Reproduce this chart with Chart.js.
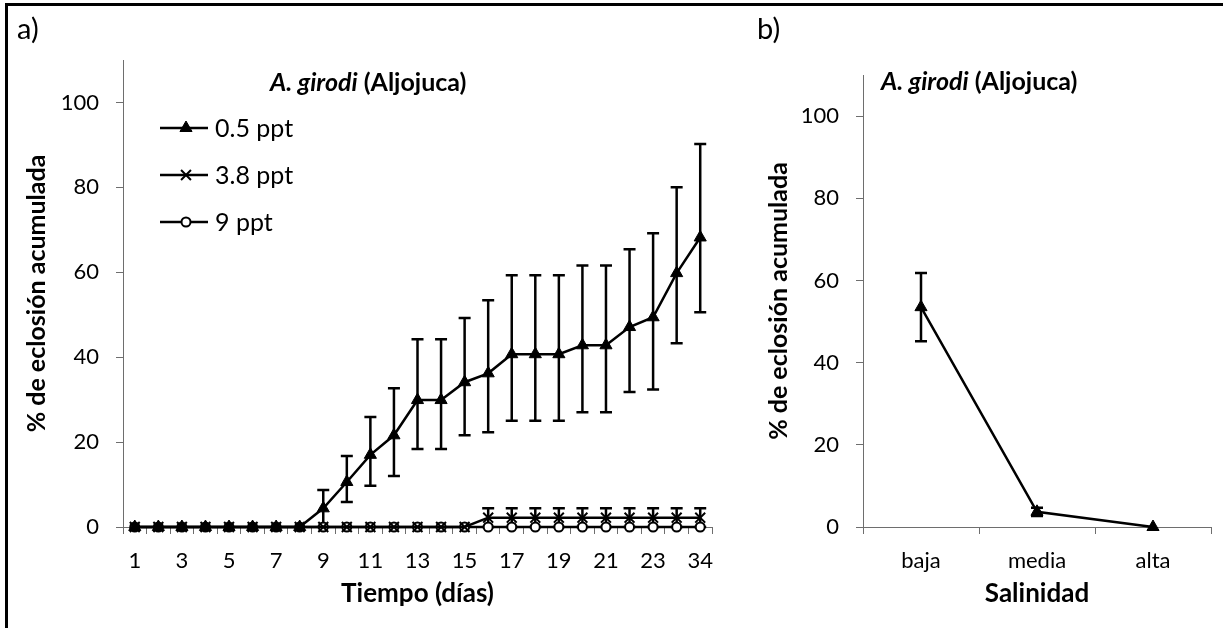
<!DOCTYPE html>
<html>
<head>
<meta charset="utf-8">
<script src="https://cdn.jsdelivr.net/npm/chart.js@4.4.1/dist/chart.umd.min.js"></script>
<style>
  html, body { margin: 0; padding: 0; background: #fff; }
  body { width: 1223px; height: 628px; position: relative; overflow: hidden; font-family: Lato, 'Open Sans', sans-serif; color: #000; }
  .frame { position: absolute; left: 5px; top: 3px; right: -3px; bottom: -3px; border-top: 3px solid #000; border-left: 3px solid #000; }
  .panel { position: absolute; top: 13px; font-size: 29px; line-height: 1; }
  .ttl { position: absolute; font-size: 25px; font-weight: bold; line-height: 1; white-space: nowrap; }
  canvas { position: absolute; top: 0; }
</style>
</head>
<body>
<div class="frame"></div>
<canvas id="chartA" width="740" height="628" style="left:0"></canvas>
<canvas id="chartB" width="483" height="628" style="left:740px"></canvas>
<div class="panel" style="left:17px">a)</div>
<div class="panel" style="left:757px">b)</div>
<div class="ttl" style="left:270px; top:69px"><i>A. girodi</i> (Aljojuca)</div>
<div class="ttl" style="left:881px; top:68px"><i>A. girodi</i> (Aljojuca)</div>

<script>
// --- data, panel a) : cumulative hatching per day
const days = ['1', '2', '3', '4', '5', '6', '7', '8', '9', '10', '11', '12', '13',
  '14', '15', '16', '17', '18', '19', '20', '21', '22', '23', '24', '34'];

const hatch05 = [0, 0, 0, 0, 0, 0, 0, 0, 4.4, 10.6, 17.0, 21.6, 29.9, 29.9, 34.1,
  36.2, 40.7, 40.7, 40.7, 42.8, 42.8, 47.1, 49.4, 59.8, 68.2];
const err05Up = [0, 0, 0, 0, 0, 0, 0, 0, 4.3, 6.1, 8.9, 11.1, 14.3, 14.3, 15.1,
  17.2, 18.6, 18.6, 18.6, 18.8, 18.8, 18.3, 19.8, 20.2, 22.0];
const err05Down = [0, 0, 0, 0, 0, 0, 0, 0, 4.4, 4.7, 7.3, 9.6, 11.5, 11.5, 12.5,
  13.9, 15.7, 15.7, 15.7, 15.8, 15.8, 15.3, 17.0, 16.5, 17.6];

const hatch38 = [0, 0, 0, 0, 0, 0, 0, 0, 0, 0, 0, 0, 0, 0, 0,
  2.2, 2.2, 2.2, 2.2, 2.2, 2.2, 2.2, 2.2, 2.2, 2.2];
const err38 = [0, 0, 0, 0, 0, 0, 0, 0, 0, 0, 0, 0, 0, 0, 0,
  2.2, 2.2, 2.2, 2.2, 2.2, 2.2, 2.2, 2.2, 2.2, 2.2];

const hatch9 = [0, 0, 0, 0, 0, 0, 0, 0, 0, 0, 0, 0, 0, 0, 0,
  0, 0, 0, 0, 0, 0, 0, 0, 0, 0];

// --- data, panel b) : by salinity
const salinity = ['baja', 'media', 'alta'];
const salMean = [53.5, 3.7, 0];
const salErr = [8.3, 1.0, 0];

const yTicks = [0, 20, 40, 60, 80, 100];

const FONT = 'Lato, "Open Sans", sans-serif';
const AXIS = '#6e6e6e';

// vertical error bars with caps, taken from dataset.errUp / errDown
const errorBars = {
  id: 'errorBars',
  beforeDatasetsDraw(chart) {
    const { ctx } = chart;
    const y = chart.scales.y;
    chart.data.datasets.forEach((ds, i) => {
      if (!ds.errUp) return;
      const meta = chart.getDatasetMeta(i);
      ctx.save();
      ctx.strokeStyle = '#000';
      ctx.lineWidth = 2.5;
      meta.data.forEach((pt, j) => {
        const up = ds.errUp[j] || 0;
        const down = (ds.errDown || ds.errUp)[j] || 0;
        if (!up && !down) return;
        const v = ds.data[j];
        const y1 = y.getPixelForValue(v + up);
        const y2 = y.getPixelForValue(v - down);
        ctx.beginPath();
        ctx.moveTo(pt.x, y1); ctx.lineTo(pt.x, y2);
        ctx.moveTo(pt.x - 6, y1); ctx.lineTo(pt.x + 6, y1);
        ctx.moveTo(pt.x - 6, y2); ctx.lineTo(pt.x + 6, y2);
        ctx.stroke();
      });
      ctx.restore();
    });
  }
};

// legend drawn inside the plot area, like the original
const insideLegend = {
  id: 'insideLegend',
  afterDraw(chart, args, opts) {
    if (!opts.display) return;
    const { ctx } = chart;
    chart.data.datasets.forEach((ds, i) => {
      const yy = opts.y + i * opts.gap;
      ctx.save();
      ctx.strokeStyle = '#000';
      ctx.lineWidth = 2.5;
      ctx.beginPath();
      ctx.moveTo(opts.x, yy);
      ctx.lineTo(opts.x + 48, yy);
      ctx.stroke();
      ctx.fillStyle = ds.pointBackgroundColor || ds.backgroundColor;
      ctx.strokeStyle = '#000';
      ctx.lineWidth = ds.pointBorderWidth;
      Chart.helpers.drawPoint(ctx, {
        pointStyle: ds.pointStyle, radius: ds.pointRadius,
        borderWidth: ds.pointBorderWidth, rotation: 0
      }, opts.x + 26, yy);
      ctx.fillStyle = '#000';
      ctx.font = '25px ' + FONT;
      ctx.textBaseline = 'middle';
      ctx.fillText(ds.label, opts.x + 55, yy + 1);
      ctx.restore();
    });
  }
};

function axes(xLabels, xTitle, yWidth, skipOdd) {
  return {
    x: {
      type: 'category',
      offset: true,
      afterFit: (s) => { s.height = 101; },
      border: { display: true, color: AXIS, width: 1 },
      grid: { display: true, drawOnChartArea: false, drawTicks: true, tickLength: 7, color: AXIS, offset: true },
      ticks: {
        autoSkip: false, maxRotation: 0, minRotation: 0, padding: 14,
        color: '#000', font: { family: FONT, size: 22 },
        callback: (val, idx) => (skipOdd && idx % 2 === 1) ? '' : xLabels[idx]
      },
      title: {
        display: true, text: xTitle, color: '#000',
        font: { family: FONT, size: 26, weight: 'bold' },
        padding: { top: 0, bottom: 19 }
      }
    },
    y: {
      min: 0, max: 110,
      afterFit: (s) => { s.width = yWidth; },
      afterBuildTicks: (s) => { s.ticks = yTicks.map(v => ({ value: v })); },
      border: { display: true, color: AXIS, width: 1 },
      grid: { display: true, drawOnChartArea: false, drawTicks: true, tickLength: 7, color: AXIS },
      ticks: { padding: 17, color: '#000', font: { family: FONT, size: 22 } },
      title: {
        display: true, text: '% de eclosión acumulada', color: '#000',
        font: { family: FONT, size: 25, weight: 'bold' },
        padding: { top: 0, bottom: 0 }
      }
    }
  };
}

new Chart(document.getElementById('chartA'), {
  type: 'line',
  data: {
    labels: days,
    datasets: [
      {
        label: '0.5 ppt', data: hatch05, errUp: err05Up, errDown: err05Down,
        borderColor: '#000', backgroundColor: '#000', borderWidth: 2.5,
        pointStyle: 'triangle', pointRadius: 7, pointBorderWidth: 1,
        pointBackgroundColor: '#000', pointBorderColor: '#000', clip: false
      },
      {
        label: '3.8 ppt', data: hatch38, errUp: err38, errDown: err38,
        borderColor: '#000', backgroundColor: '#000', borderWidth: 2.5,
        pointStyle: 'crossRot', pointRadius: 7, pointBorderWidth: 2,
        pointBackgroundColor: '#000', pointBorderColor: '#000', clip: false
      },
      {
        label: '9 ppt', data: hatch9,
        borderColor: '#000', backgroundColor: '#fff', borderWidth: 2.5,
        pointStyle: 'circle', pointRadius: 4.5, pointBorderWidth: 2,
        pointBackgroundColor: '#fff', pointBorderColor: '#000', clip: false
      }
    ]
  },
  options: {
    responsive: false,
    animation: false,
    events: [],
    layout: { padding: { left: 22, top: 60, right: 28, bottom: 0 } },
    plugins: {
      legend: { display: false },
      tooltip: { enabled: false },
      insideLegend: { display: true, x: 160, y: 128, gap: 47 }
    },
    scales: axes(days, 'Tiempo (días)', 101, true)
  },
  plugins: [errorBars, insideLegend]
});

new Chart(document.getElementById('chartB'), {
  type: 'line',
  data: {
    labels: salinity,
    datasets: [{
      label: 'Salinidad', data: salMean, errUp: salErr, errDown: salErr,
      borderColor: '#000', backgroundColor: '#000', borderWidth: 2.5,
      pointStyle: 'triangle', pointRadius: 7, pointBorderWidth: 1,
      pointBackgroundColor: '#000', pointBorderColor: '#000', clip: false
    }]
  },
  options: {
    responsive: false,
    animation: false,
    events: [],
    layout: { padding: { left: 24, top: 75, right: 12, bottom: 0 } },
    plugins: {
      legend: { display: false },
      tooltip: { enabled: false },
      insideLegend: { display: false }
    },
    scales: axes(salinity, 'Salinidad', 99, false)
  },
  plugins: [errorBars, insideLegend]
});
</script>
</body>
</html>
